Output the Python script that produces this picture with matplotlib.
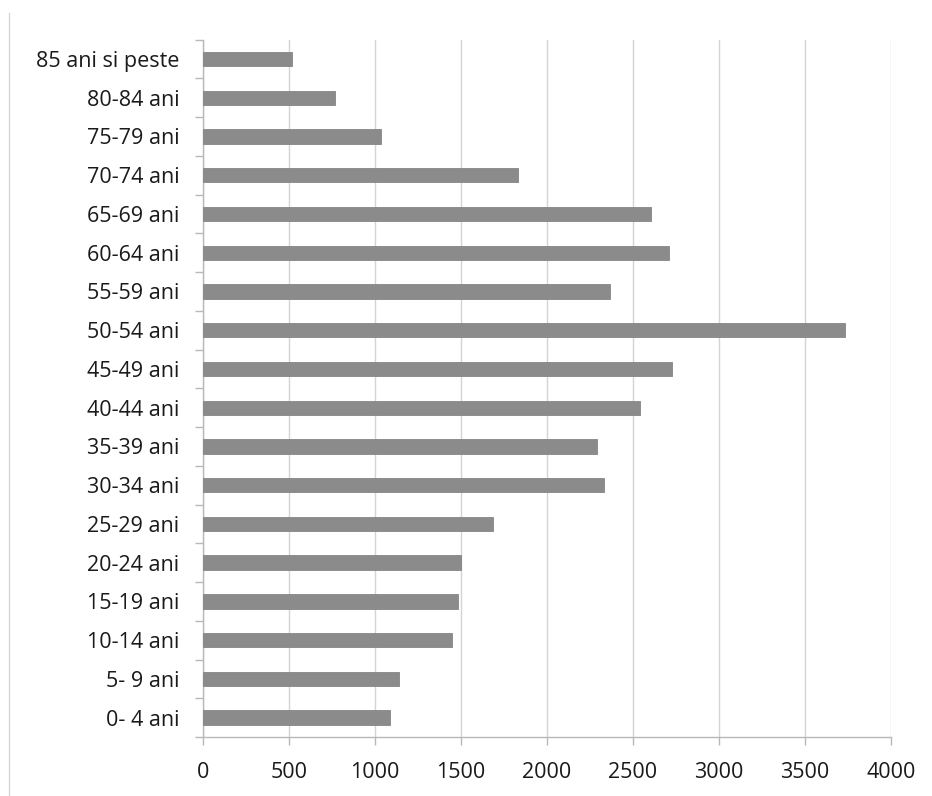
import matplotlib
matplotlib.use("Agg")
import matplotlib.pyplot as plt
from matplotlib.lines import Line2D

# Age groups (bottom to top) and population counts
age_groups = ["0- 4 ani", "5- 9 ani", "10-14 ani", "15-19 ani", "20-24 ani",
              "25-29 ani", "30-34 ani", "35-39 ani", "40-44 ani", "45-49 ani",
              "50-54 ani", "55-59 ani", "60-64 ani", "65-69 ani", "70-74 ani",
              "75-79 ani", "80-84 ani", "85 ani si peste"]
population = [1085, 1140, 1445, 1480, 1500,
              1685, 2330, 2290, 2540, 2725,
              3730, 2365, 2710, 2605, 1830,
              1035, 765, 520]
x_ticks = [0, 500, 1000, 1500, 2000, 2500, 3000, 3500, 4000]

W, H = 932, 796
fig = plt.figure(figsize=(W / 100, H / 100), dpi=100)
fig.patch.set_facecolor("white")

left, right, top, bottom = 203, 891, 39.6, 737
ax = fig.add_axes([left / W, 1 - bottom / H, (right - left) / W, (bottom - top) / H])

y = list(range(len(age_groups)))
ax.barh(y, population, height=0.37, color="#8b8b8b", edgecolor="#858585",
        linewidth=0.6, zorder=3)

ax.set_xlim(0, 4000)
ax.set_ylim(-0.5, len(age_groups) - 0.5)
ax.set_xticks(x_ticks)
ax.set_xticklabels([str(t) for t in x_ticks])
ax.set_yticks(y)
ax.set_yticklabels(age_groups)

# vertical gridlines
ax.grid(axis="x", color="#d4d4d4", linewidth=1.0, zorder=0)
ax.grid(axis="y", visible=False)

for side in ("top", "right"):
    ax.spines[side].set_visible(False)
for side in ("left", "bottom"):
    ax.spines[side].set_color("#b8b8b8")
    ax.spines[side].set_linewidth(1.0)

# category separators on the y axis, value ticks on the x axis
ax.tick_params(axis="y", which="major", length=0, pad=17)
ax.set_yticks([i - 0.5 for i in range(len(age_groups) + 1)], minor=True)
ax.tick_params(axis="y", which="minor", length=6, color="#b8b8b8", width=1.0)
ax.tick_params(axis="x", which="major", length=6, color="#b8b8b8", width=1.0,
               direction="out", pad=12)

for lbl in ax.get_yticklabels() + ax.get_xticklabels():
    lbl.set_fontfamily("Open Sans")
    lbl.set_fontsize(15.5)
    lbl.set_color("#1a1a1a")

# faint frame line on the left of the chart area
fig.add_artist(Line2D([9 / W, 9 / W], [0, 1 - 13 / H], transform=fig.transFigure,
                      color="#d8d8d8", linewidth=1.0))

fig.savefig("out.png", dpi=100, facecolor="white")
